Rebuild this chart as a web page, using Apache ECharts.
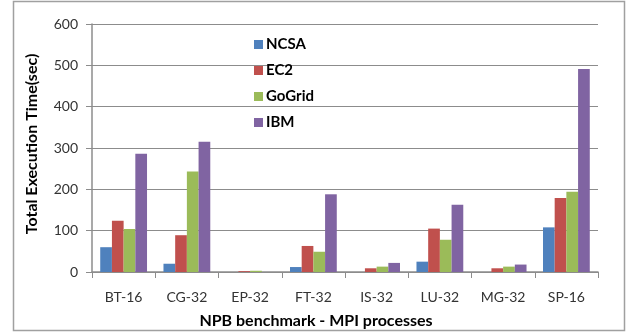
<!DOCTYPE html>
<html><head><meta charset="utf-8">
<script src="https://cdn.jsdelivr.net/npm/echarts@6/dist/echarts.min.js"></script>
<style>html,body{margin:0;padding:0;background:#fff}#c{width:636px;height:334px}</style>
</head><body><div id="c"></div>
<script>
const categories = ['BT-16','CG-32','EP-32','FT-32','IS-32','LU-32','MG-32','SP-16'];
const ncsa   = [60, 20, 0, 12, 0, 25, 0, 108];
const ec2    = [124, 89, 2, 63, 9, 105, 9, 179];
const gogrid = [104, 243, 3, 49, 13, 78, 13, 194];
const ibm    = [286, 315, 0, 188, 22, 163, 18, 491];
const yTicks = [0, 100, 200, 300, 400, 500, 600];
const seriesNames = ['NCSA','EC2','GoGrid','IBM'];
const colors = ['#4F81BD','#C0504D','#9BBB59','#8064A2'];
const FONT = 'Lato';
const chart = echarts.init(document.getElementById('c'));
const datas = [ncsa, ec2, gogrid, ibm];
chart.setOption({
  animation: false,
  textStyle: {fontFamily: FONT},
  graphic: [{type:'rect', shape:{x:13.5,y:1.5,width:611,height:329}, style:{fill:'none', stroke:'#a0a0a0', lineWidth:1.5}}],
  grid: {left: 92, right: 38, top: 24, bottom: 62, outerBoundsMode: 'none', containLabel: false},
  legend: {
    orient: 'vertical', left: 249, top: 32, itemWidth: 9, itemHeight: 9, itemGap: 11,
    icon: 'rect',
    textStyle: {fontFamily: FONT, fontWeight: 'bold', fontSize: 15, color: '#000', padding:[0,0,0,-2]},
    data: seriesNames
  },
  xAxis: {
    type: 'category', data: categories,
    name: 'NPB benchmark - MPI processes', nameLocation: 'middle', nameGap: 41,
    nameTextStyle: {fontFamily: FONT, fontWeight: 'bold', fontSize: 16, color: '#000', padding: [0, 58, 0, 0]},
    axisLine: {lineStyle: {color: '#8c8c8c', width: 1.5}},
    axisTick: {show: true, length: 6, lineStyle: {color: '#8c8c8c'}},
    axisLabel: {fontSize: 14, color: '#333', margin: 18, fontFamily: FONT}
  },
  yAxis: {
    type: 'value', min: 0, max: 600, interval: 100,
    name: 'Total Execution Time(sec)', nameLocation: 'middle', nameGap: 52,
    nameTextStyle: {fontFamily: FONT, fontWeight: 'bold', fontSize: 16, color: '#000', padding: [0, 0, 0, 8]},
    axisLine: {show: true, lineStyle: {color: '#8c8c8c', width: 1.5}},
    axisTick: {show: true, length: 6, lineStyle: {color: '#8c8c8c'}},
    splitLine: {lineStyle: {color: '#8c8c8c', width: 1}},
    axisLabel: {fontSize: 14, color: '#333', margin: 14, fontFamily: FONT,
      formatter: v => yTicks.includes(v) ? String(v) : ''}
  },
  series: seriesNames.map((n, i) => ({
    name: n, type: 'bar', data: datas[i], barGap: '0%', barCategoryGap: '26%',
    itemStyle: {color: colors[i]}
  }))
});
</script></body></html>
